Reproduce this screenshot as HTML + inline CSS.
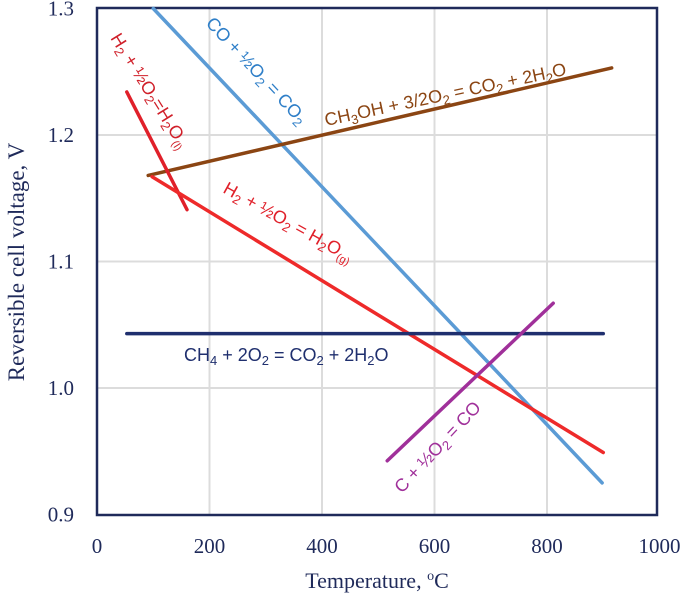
<!DOCTYPE html>
<html><head><meta charset="utf-8"><style>
body{margin:0;background:#fff}
svg{display:block}
.lab{font-family:"Liberation Sans",sans-serif;font-size:18px}
.tk{font-family:"Liberation Serif",serif;font-size:21px;fill:#1f2a5a}
</style></head><body>
<svg id="c" width="685" height="599" viewBox="0 0 685 599"></svg>
<script>
const xTicks=[0,200,400,600,800,1000];
const yTicks=[0.9,1.0,1.1,1.2,1.3];
const seriesNames=["co","ch3oh","h2-liquid","h2-gas","ch4","carbon"];
const seriesColors=["#5b9bd5","#8b4513","#e0202a","#ee2a2a","#1f2f6e","#a0309a"];
const seriesT=[[100,898],[91,915],[53,160],[98,900],[53,900],[516,811]];
const seriesV=[[1.300,0.925],[1.168,1.253],[1.234,1.141],[1.167,0.949],[1.043,1.043],[0.9425,1.067]];
const NS="http://www.w3.org/2000/svg";
const svg=document.getElementById('c');
const X=t=>97+t*0.5625, Y=v=>8.5+(1.3-v)*1265;
function mk(tag,a,p){const e=document.createElementNS(NS,tag);for(const k in a)e.setAttribute(k,a[k]);(p||svg).appendChild(e);return e;}
xTicks.forEach(t=>{if(t>0&&t<1000){
const g=mk('line',{x1:X(t),x2:X(t),y1:8,y2:515,stroke:'#dcdcdc','stroke-width':2});

}
const l=mk('text',{x:X(t),y:553,'text-anchor':'middle',class:'tk'});l.textContent=t;

});
yTicks.forEach(v=>{if(v>0.9&&v<1.3){
const g=mk('line',{x1:97,x2:657,y1:Y(v),y2:Y(v),stroke:'#dcdcdc','stroke-width':2});

}
const l=mk('text',{x:74,y:Y(v)+7,'text-anchor':'end',class:'tk'});l.textContent=v.toFixed(1);

});
const fr=mk('rect',{x:97,y:8,width:560,height:507,fill:'none',stroke:'#1f2a5a','stroke-width':2.5});


seriesNames.forEach((n,i)=>{
const l=mk('line',{x1:X(seriesT[i][0]),y1:Y(seriesV[i][0]),x2:X(seriesT[i][1]),y2:Y(seriesV[i][1]),stroke:seriesColors[i],'stroke-width':3.5,'stroke-linecap':'round'});

});
</script>
<svg width="685" height="599" style="position:absolute;left:0;top:0">
<text class="lab" fill="#2f7fc8" transform="translate(205,24) rotate(47)">CO + ½O<tspan font-size="13" dy="4">2</tspan><tspan dy="-4"> = CO</tspan><tspan font-size="13" dy="4">2</tspan></text>
<text class="lab" fill="#d0202a" transform="translate(110,38) rotate(58)">H<tspan font-size="13" dy="4">2</tspan><tspan dy="-4"> + ½O</tspan><tspan font-size="13" dy="4">2</tspan><tspan dy="-4">=H</tspan><tspan font-size="13" dy="4">2</tspan><tspan dy="-4">O</tspan><tspan font-size="11" dy="4">(l)</tspan></text>
<text class="lab" fill="#8b4513" transform="translate(326,126) rotate(-12)">CH<tspan font-size="13" dy="4">3</tspan><tspan dy="-4">OH + 3/2O</tspan><tspan font-size="13" dy="4">2</tspan><tspan dy="-4"> = CO</tspan><tspan font-size="13" dy="4">2</tspan><tspan dy="-4"> + 2H</tspan><tspan font-size="13" dy="4">2</tspan><tspan dy="-4">O</tspan></text>
<text class="lab" fill="#e0202a" transform="translate(222,192) rotate(29)">H<tspan font-size="13" dy="4">2</tspan><tspan dy="-4"> + ½O</tspan><tspan font-size="13" dy="4">2</tspan><tspan dy="-4"> = H</tspan><tspan font-size="13" dy="4">2</tspan><tspan dy="-4">O</tspan><tspan font-size="11" dy="4">(g)</tspan></text>
<text class="lab" fill="#1f2f6e" x="184" y="361">CH<tspan font-size="13" dy="4">4</tspan><tspan dy="-4"> + 2O</tspan><tspan font-size="13" dy="4">2</tspan><tspan dy="-4"> = CO</tspan><tspan font-size="13" dy="4">2</tspan><tspan dy="-4"> + 2H</tspan><tspan font-size="13" dy="4">2</tspan><tspan dy="-4">O</tspan></text>
<text class="lab" fill="#a0309a" transform="translate(402,494) rotate(-47)">C + ½O<tspan font-size="13" dy="4">2</tspan><tspan dy="-4"> = CO</tspan></text>
<text x="377" y="588" text-anchor="middle" style="font-family:'Liberation Serif',serif;font-size:22px;fill:#1f2a5a">Temperature, <tspan font-size="14" dy="-8">o</tspan><tspan dy="8">C</tspan></text>
<text transform="translate(24,262) rotate(-90)" text-anchor="middle" style="font-family:'Liberation Serif',serif;font-size:23px;fill:#1f2a5a">Reversible cell voltage, V</text>
</svg>
</body></html>
